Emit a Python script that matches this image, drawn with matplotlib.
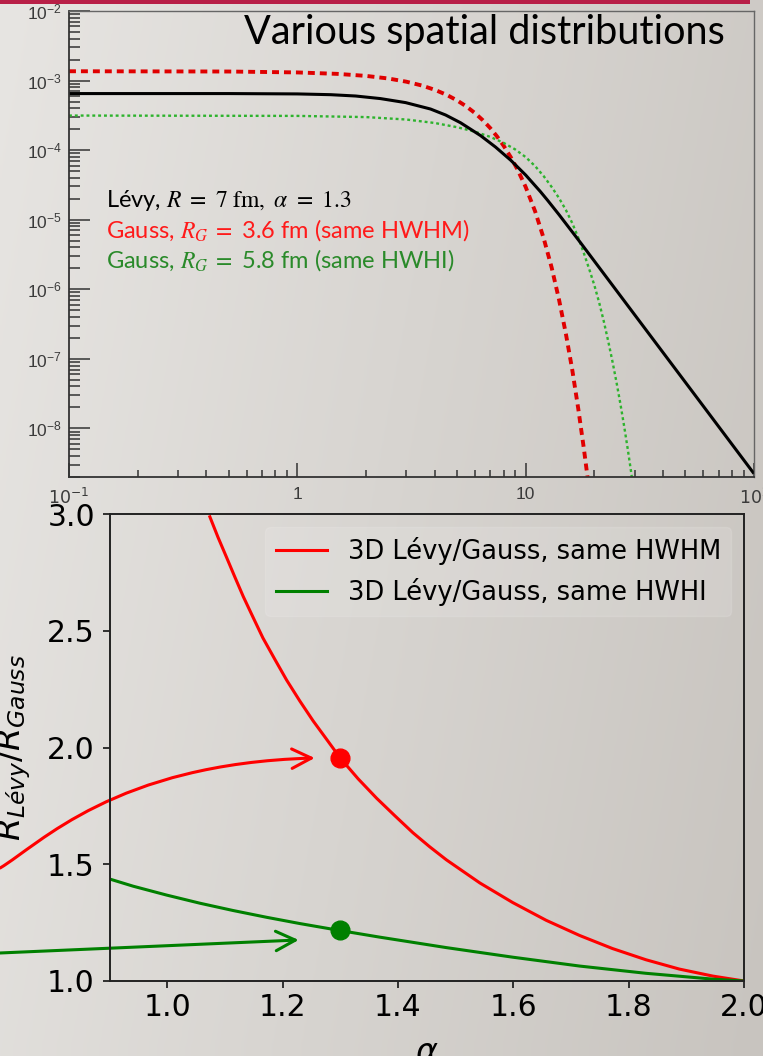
import numpy as np
import matplotlib
matplotlib.use("Agg")
import matplotlib.pyplot as plt
from matplotlib.patches import FancyArrowPatch, Rectangle
from matplotlib.path import Path
from matplotlib.ticker import LogLocator, NullFormatter

# ---------------- data ----------------
# top panel: spatial distributions, r in fm (values given as log10)
r_levy = [0.1, 0.5, 1.0, 1.4, 1.8, 2.31, 2.98, 3.83, 4.46, 5.19, 6.35, 7.38,
          8.60, 10.0, 11.6, 12.5, 14.0, 17.4, 30.0, 60.0, 100.0]
log_levy = [-3.187, -3.187, -3.192, -3.203, -3.222, -3.259, -3.317, -3.409,
            -3.495, -3.607, -3.792, -3.956, -4.145, -4.358, -4.596, -4.725,
            -4.928, -5.332, -6.366, -7.681, -8.651]

r_gauss_hwhm = [0.1, 0.5, 1.0, 1.5, 2.0, 2.5, 3.0, 3.5, 4.0, 4.5, 5.0, 5.5,
                6.0, 6.5, 7.0, 7.5, 8.0, 8.6, 9.2, 10.0, 11.0, 12.0, 13.0,
                14.0, 15.0, 16.0, 17.0, 18.0, 19.0]
log_gauss_hwhm = [-2.866, -2.870, -2.883, -2.904, -2.933, -2.970, -3.016,
                  -3.070, -3.133, -3.204, -3.284, -3.372, -3.468, -3.572,
                  -3.684, -3.805, -3.935, -4.100, -4.275, -4.530, -4.880,
                  -5.270, -5.690, -6.150, -6.640, -7.160, -7.720, -8.300,
                  -8.900]

r_gauss_hwhi = [0.1, 1.0, 2.0, 3.0, 4.0, 5.0, 6.0, 7.0, 8.0, 9.0, 10.0, 11.0,
                12.0, 13.0, 14.0, 15.0, 16.0, 17.0, 18.0, 19.0, 20.0, 21.0,
                22.0, 23.0, 24.0, 25.0, 26.0, 27.0, 28.0, 29.0, 30.0]
log_gauss_hwhi = [-3.503, -3.508, -3.525, -3.560, -3.610, -3.670, -3.735,
                  -3.810, -3.895, -3.990, -4.100, -4.230, -4.375, -4.530,
                  -4.690, -4.860, -5.050, -5.260, -5.485, -5.715, -5.945,
                  -6.195, -6.465, -6.750, -7.040, -7.340, -7.650, -7.970,
                  -8.300, -8.640, -8.990]

levy = [10.0 ** v for v in log_levy]
gauss_hwhm = [10.0 ** v for v in log_gauss_hwhm]
gauss_hwhi = [10.0 ** v for v in log_gauss_hwhi]

x_ticks_top = [0.1, 1, 10, 100]
x_ticklabels_top = [r"$10^{-1}$", "1", "10", r"$10^{2}$"]

# bottom panel: R_Levy / R_Gauss vs alpha
alpha_hwhm = [1.074, 1.088, 1.103, 1.117, 1.132, 1.149, 1.166, 1.187, 1.207,
              1.230, 1.253, 1.277, 1.300, 1.331, 1.363, 1.395, 1.426, 1.455,
              1.484, 1.542, 1.599, 1.657, 1.715, 1.772, 1.830, 1.888, 1.946,
              2.0]
ratio_hwhm = [2.988, 2.901, 2.814, 2.732, 2.646, 2.557, 2.469, 2.376, 2.289,
              2.199, 2.114, 2.033, 1.955, 1.866, 1.783, 1.707, 1.635, 1.575,
              1.519, 1.420, 1.336, 1.260, 1.195, 1.139, 1.091, 1.051, 1.021,
              1.0]

alpha_hwhi = [0.900, 0.941, 0.999, 1.057, 1.114, 1.172, 1.230, 1.300, 1.368,
              1.484, 1.599, 1.715, 1.830, 1.946, 2.0]
ratio_hwhi = [1.437, 1.406, 1.368, 1.333, 1.302, 1.273, 1.246, 1.216, 1.188,
              1.143, 1.102, 1.064, 1.033, 1.008, 1.0]

alpha_mark = [1.3]
ratio_hwhm_mark = [1.955]
ratio_hwhi_mark = [1.218]

x_ticks_bottom = [1.0, 1.2, 1.4, 1.6, 1.8, 2.0]
y_ticks_bottom = [1.0, 1.5, 2.0, 2.5, 3.0]

# ---------------- figure ----------------
W, H = 763, 1056
fig = plt.figure(figsize=(W / 100, H / 100), dpi=100)

# slide background gradient
bg = fig.add_axes([0, 0, 1, 1], zorder=-10)
gx, gy = np.meshgrid(np.linspace(0, 1, 256), np.linspace(0, 1, 64))
c0 = np.array([231, 229, 226]) / 255.0
c1 = np.array([200, 196, 191]) / 255.0
t = np.clip(0.8 * gx + 0.2 * gy, 0, 1)
bg.imshow(c0 + (c1 - c0) * t[..., None], aspect="auto", extent=[0, 1, 0, 1],
          origin="upper")
bg.axis("off")

fig.patches.append(Rectangle((0, 1 - 4 / H), 750 / W, 4 / H,
                             transform=fig.transFigure, color="#b81f47",
                             lw=0))


def fx(px):
    return px / W


def fy(py):
    return 1 - py / H


# ---------------- top panel ----------------
ax1 = fig.add_axes([fx(69), fy(477), (754 - 69) / W, (477 - 11) / H])
ax1.patch.set_alpha(0)
ax1.set_xscale("log")
ax1.set_yscale("log")

lw_r = 2.8
ax1.plot(r_gauss_hwhm, gauss_hwhm, color="#e00000", lw=lw_r,
         linestyle=(0, (5.0 / lw_r, 3.6 / lw_r)))
lw_g = 1.7
ax1.plot(r_gauss_hwhi, gauss_hwhi, color="#2db32d", lw=lw_g,
         linestyle=(0, (2.1 / lw_g, 2.1 / lw_g)))
ax1.plot(r_levy, levy, color="black", lw=2.2, solid_capstyle="butt")

ax1.set_xlim(0.1, 100)
ax1.set_ylim(2e-9, 1e-2)
ax1.set_xticks(x_ticks_top, x_ticklabels_top)
ax1.yaxis.set_major_locator(LogLocator(base=10, numticks=20))
ax1.yaxis.set_minor_locator(LogLocator(base=10, subs=np.arange(2, 10),
                                       numticks=20))
ax1.yaxis.set_minor_formatter(NullFormatter())
ax1.xaxis.set_minor_locator(LogLocator(base=10, subs=np.arange(2, 10),
                                       numticks=20))
ax1.xaxis.set_minor_formatter(NullFormatter())
ax1.set_xlim(0.1, 100)
ax1.tick_params(which="both", direction="in", top=False, right=False,
                color="#333333", width=1.1, labelcolor="#3a3a3a",
                labelsize=12.5)
ax1.tick_params(axis="y", which="major", length=15, pad=5)
ax1.tick_params(axis="y", which="minor", length=8)
ax1.tick_params(axis="x", which="major", length=10, pad=7)
ax1.tick_params(axis="x", which="minor", length=5)
for lab in ax1.get_xticklabels() + ax1.get_yticklabels():
    lab.set_fontfamily(["Liberation Sans Narrow", "Liberation Sans"])
for s in ("left", "bottom"):
    ax1.spines[s].set_color("#333333")
    ax1.spines[s].set_linewidth(1.3)
for s in ("top", "right"):
    ax1.spines[s].set_color("#666666")
    ax1.spines[s].set_linewidth(1.0)

fig.text(fx(725), fy(44), "Various spatial distributions", ha="right",
         va="baseline", fontsize=28.5, family="Lato", color="black")

fs_t = 17
fig.text(fx(106), fy(207),
         r"Lévy, $R\ =\ 7\ \mathrm{fm},\ \alpha\ =\ 1.3$",
         fontsize=fs_t, family="Lato", math_fontfamily="stix",
         color="black", va="baseline")
fig.text(fx(106), fy(238), r"Gauss, $R_G\;=$ 3.6 fm (same HWHM)",
         fontsize=fs_t, family="Lato", math_fontfamily="stix",
         color="#ff1a1a", va="baseline")
fig.text(fx(106), fy(268), r"Gauss, $R_G\;=$ 5.8 fm (same HWHI)",
         fontsize=fs_t, family="Lato", math_fontfamily="stix",
         color="#2a8a2a", va="baseline")

# ---------------- bottom panel ----------------
ax2 = fig.add_axes([fx(109.5), fy(981), (744 - 109.5) / W, (981 - 514) / H])
ax2.patch.set_alpha(0)
ax2.plot(alpha_hwhm, ratio_hwhm, color="red", lw=2.2,
         label="3D Lévy/Gauss, same HWHM")
ax2.plot(alpha_hwhi, ratio_hwhi, color="green", lw=2.2,
         label="3D Lévy/Gauss, same HWHI")
ax2.plot(alpha_mark, ratio_hwhm_mark, "o", color="red", ms=13.5, zorder=5)
ax2.plot(alpha_mark, ratio_hwhi_mark, "o", color="green", ms=13.5, zorder=5)

# annotation arrows (coming from the left of the slide)
red_path = Path([(0.7104, 1.484), (0.7797, 1.587), (0.9095, 1.930),
                 (1.2558, 1.955)],
                [Path.MOVETO, Path.CURVE4, Path.CURVE4, Path.CURVE4])
green_path = Path([(0.7104, 1.120), (1.228, 1.1757)],
                  [Path.MOVETO, Path.LINETO])
for pth, col in ((red_path, "red"), (green_path, "green")):
    arr = FancyArrowPatch(path=pth,
                          arrowstyle="->,head_length=1.0,head_width=0.5",
                          mutation_scale=14, color=col, lw=2.2,
                          transform=ax2.transData, clip_on=False)
    ax2.add_artist(arr)

ax2.set_xlim(0.9, 2.0)
ax2.set_ylim(1.0, 3.0)
ax2.set_xticks(x_ticks_bottom)
ax2.set_yticks(y_ticks_bottom)
ax2.tick_params(direction="out", length=5, width=1.3, labelsize=21.5,
                color="#222222")
ax2.tick_params(axis="y", pad=5.5)
ax2.tick_params(axis="x", pad=4)
for s in ax2.spines.values():
    s.set_color("#222222")
    s.set_linewidth(1.4)

ax2.set_ylabel(r"$R_{Lévy}/R_{Gauss}$", fontsize=24)
ax2.yaxis.set_label_coords((33 - 109.5) / (744 - 109.5), 0.5)
ax2.set_xlabel(r"$\alpha$", fontsize=24)
ax2.xaxis.set_label_coords(0.5, (981 - 1036) / (981 - 514))

leg = ax2.legend(loc="upper right", fontsize=18.5, facecolor="white",
                 edgecolor="white", framealpha=0.12)

fig.savefig("out.png", dpi=100)
